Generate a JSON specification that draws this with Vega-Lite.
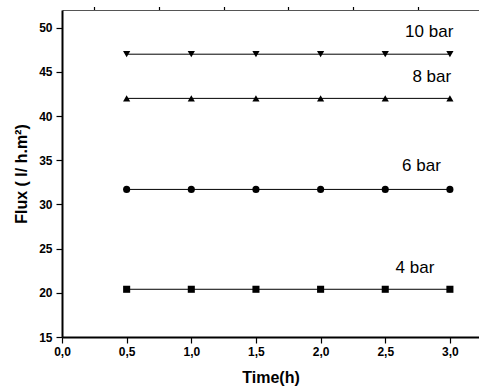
{
  "$schema": "https://vega.github.io/schema/vega-lite/v6.json",
  "autosize": "none",
  "width": 417,
  "height": 327,
  "padding": {"left": 62, "top": 10, "right": 0, "bottom": 55},
  "background": "white",
  "config": {
    "view": {"stroke": null},
    "font": "Liberation Sans",
    "axis": {"grid": false, "domainColor": "black", "tickColor": "black", "labelColor": "black", "titleColor": "black", "labelFont": "Liberation Sans", "titleFont": "Liberation Sans", "labelFontWeight": "bold", "titleFontWeight": "bold", "labelFontSize": 12, "titleFontSize": 16, "domainWidth": 2, "tickWidth": 1.2}
  },
  "datasets": {
    "flux": [
      {"t": 0.5, "flux": 20.4, "p": "4 bar"}, {"t": 1.0, "flux": 20.4, "p": "4 bar"}, {"t": 1.5, "flux": 20.4, "p": "4 bar"}, {"t": 2.0, "flux": 20.4, "p": "4 bar"}, {"t": 2.5, "flux": 20.4, "p": "4 bar"}, {"t": 3.0, "flux": 20.4, "p": "4 bar"},
      {"t": 0.5, "flux": 31.7, "p": "6 bar"}, {"t": 1.0, "flux": 31.7, "p": "6 bar"}, {"t": 1.5, "flux": 31.7, "p": "6 bar"}, {"t": 2.0, "flux": 31.7, "p": "6 bar"}, {"t": 2.5, "flux": 31.7, "p": "6 bar"}, {"t": 3.0, "flux": 31.7, "p": "6 bar"},
      {"t": 0.5, "flux": 42.0, "p": "8 bar"}, {"t": 1.0, "flux": 42.0, "p": "8 bar"}, {"t": 1.5, "flux": 42.0, "p": "8 bar"}, {"t": 2.0, "flux": 42.0, "p": "8 bar"}, {"t": 2.5, "flux": 42.0, "p": "8 bar"}, {"t": 3.0, "flux": 42.0, "p": "8 bar"},
      {"t": 0.5, "flux": 47.0, "p": "10 bar"}, {"t": 1.0, "flux": 47.0, "p": "10 bar"}, {"t": 1.5, "flux": 47.0, "p": "10 bar"}, {"t": 2.0, "flux": 47.0, "p": "10 bar"}, {"t": 2.5, "flux": 47.0, "p": "10 bar"}, {"t": 3.0, "flux": 47.0, "p": "10 bar"}
    ],
    "labels": [
      {"t": 2.84, "flux": 49.5, "label": "10 bar"},
      {"t": 2.86, "flux": 44.4, "label": "8 bar"},
      {"t": 2.78, "flux": 34.4, "label": "6 bar"},
      {"t": 2.73, "flux": 22.85, "label": "4 bar"}
    ]
  },
  "resolve": {"axis": {"x": "independent", "y": "independent"}},
  "layer": [
    {
      "data": {"name": "flux"},
      "mark": {"type": "line", "color": "black", "strokeWidth": 1},
      "encoding": {
        "x": {"field": "t", "type": "quantitative", "scale": {"domain": [0, 3.225], "nice": false, "zero": false},
          "axis": {"title": "Time(h)", "values": [0, 0.5, 1, 1.5, 2, 2.5, 3], "labelExpr": "replace(format(datum.value, '.1f'), '.', ',')", "tickSize": 6, "labelPadding": 3, "titlePadding": 12, "labelFlush": false}},
        "y": {"field": "flux", "type": "quantitative", "scale": {"domain": [15, 52], "nice": false, "zero": false},
          "axis": {"title": "Flux ( l/ h.m²)", "values": [15, 20, 25, 30, 35, 40, 45, 50], "tickSize": 6, "labelPadding": 4, "titlePadding": 9, "labelFlush": false}},
        "detail": {"field": "p"}
      }
    },
    {
      "data": {"name": "flux"},
      "mark": {"type": "point", "filled": true, "color": "black", "opacity": 1},
      "encoding": {
        "x": {"field": "t", "type": "quantitative", "axis": {"title": null, "labels": false, "values": [0.25, 0.75, 1.25, 1.75, 2.25, 2.75], "tickSize": 3.5, "domain": false}},
        "y": {"field": "flux", "type": "quantitative", "axis": {"title": null, "labels": false, "values": [17.5, 22.5, 27.5, 32.5, 37.5, 42.5, 47.5], "tickSize": 3.5, "domain": false}},
        "shape": {"field": "p", "type": "nominal", "scale": {"domain": ["4 bar", "6 bar", "8 bar", "10 bar"], "range": ["square", "circle", "triangle-up", "triangle-down"]}, "legend": null},
        "size": {"field": "p", "type": "nominal", "scale": {"domain": ["4 bar", "6 bar", "8 bar", "10 bar"], "range": [50, 52, 88, 88]}, "legend": null}
      }
    },
    {
      "data": {"name": "labels"},
      "mark": {"type": "text", "fontSize": 17, "font": "Liberation Sans", "color": "black", "align": "center", "baseline": "middle"},
      "encoding": {
        "x": {"field": "t", "type": "quantitative", "axis": {"orient": "top", "title": null, "labels": false, "ticks": false, "domainColor": "#555", "domainWidth": 1}},
        "y": {"field": "flux", "type": "quantitative", "axis": null},
        "text": {"field": "label"}
      }
    }
  ]
}
